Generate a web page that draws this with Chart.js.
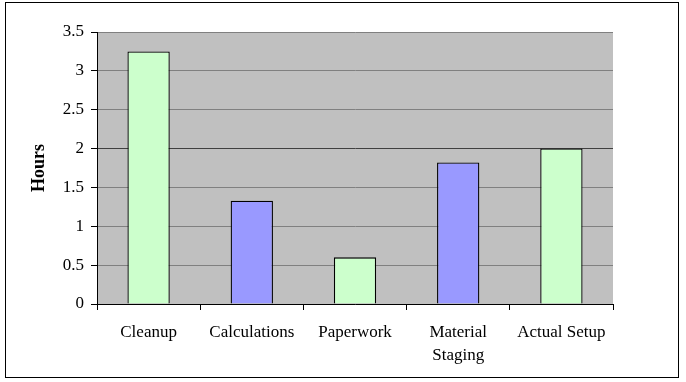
<!DOCTYPE html>
<html lang="en">
<head>
<meta charset="UTF-8">
<title>Hours</title>
<script src="https://cdn.jsdelivr.net/npm/chart.js"></script>
<style>
    body { margin: 0; background: #ffffff; }
    .frame {
        position: absolute; left: 5px; top: 2px;
        width: 674px; height: 376px;
        border: 1px solid #000;
        box-sizing: border-box;
    }
    .wrap { position: absolute; left: 0; top: 0; width: 686px; height: 382px; }
</style>
</head>
<body>
<div class="frame"></div>
<div class="wrap"><canvas id="c" width="686" height="382"></canvas></div>
<script>
const categories = ['Cleanup', 'Calculations', 'Paperwork', ['Material', 'Staging'], 'Actual Setup'];
const hours = [3.25, 1.33, 0.6, 1.82, 2.0];
const barColors = ['#CCFFCC', '#9999FF', '#CCFFCC', '#9999FF', '#CCFFCC'];

// gray plot background like excel
const plotBg = {
    id: 'plotBg',
    beforeDraw(chart) {
        const a = chart.chartArea, ctx = chart.ctx;
        ctx.save();
        ctx.fillStyle = '#C0C0C0';
        ctx.fillRect(a.left, a.top, a.right - a.left, a.bottom - a.top);
        ctx.restore();
    }
};

new Chart(document.getElementById('c'), {
    type: 'bar',
    data: {
        labels: categories,
        datasets: [{
            data: hours,
            backgroundColor: barColors,
            borderColor: '#000000',
            borderWidth: 1.3,
            barPercentage: 0.41,
            categoryPercentage: 1
        }]
    },
    options: {
        responsive: false,
        animation: false,
        layout: { padding: { top: 32, right: 73, left: 0, bottom: 0 } },
        plugins: { legend: { display: false }, tooltip: { enabled: false } },
        scales: {
            y: {
                min: 0, max: 3.5,
                ticks: {
                    stepSize: 0.5, color: '#000', padding: 7,
                    font: { family: 'Liberation Serif', size: 17 },
                    callback: (v) => String(v)
                },
                grid: {
                    color: (c) => c.tick && c.tick.value === 2 ? '#404040' : '#808080',
                    tickLength: 6,
                    tickColor: '#000'
                },
                border: { color: '#000' },
                title: {
                    display: true, text: 'Hours', color: '#000',
                    padding: { top: 29, bottom: 0 },
                    font: { family: 'Liberation Serif', size: 18, weight: 'bold' }
                },
                afterFit: (s) => { s.width = 97; }
            },
            x: {
                ticks: { color: '#000', padding: 11, font: { family: 'Liberation Serif', size: 17, lineHeight: 1.35 } },
                grid: { drawOnChartArea: false, tickLength: 6, tickColor: '#000' },
                border: { color: '#000' },
                afterFit: (s) => { s.height = 78; }
            }
        }
    },
    plugins: [plotBg]
});
</script>
</body>
</html>
